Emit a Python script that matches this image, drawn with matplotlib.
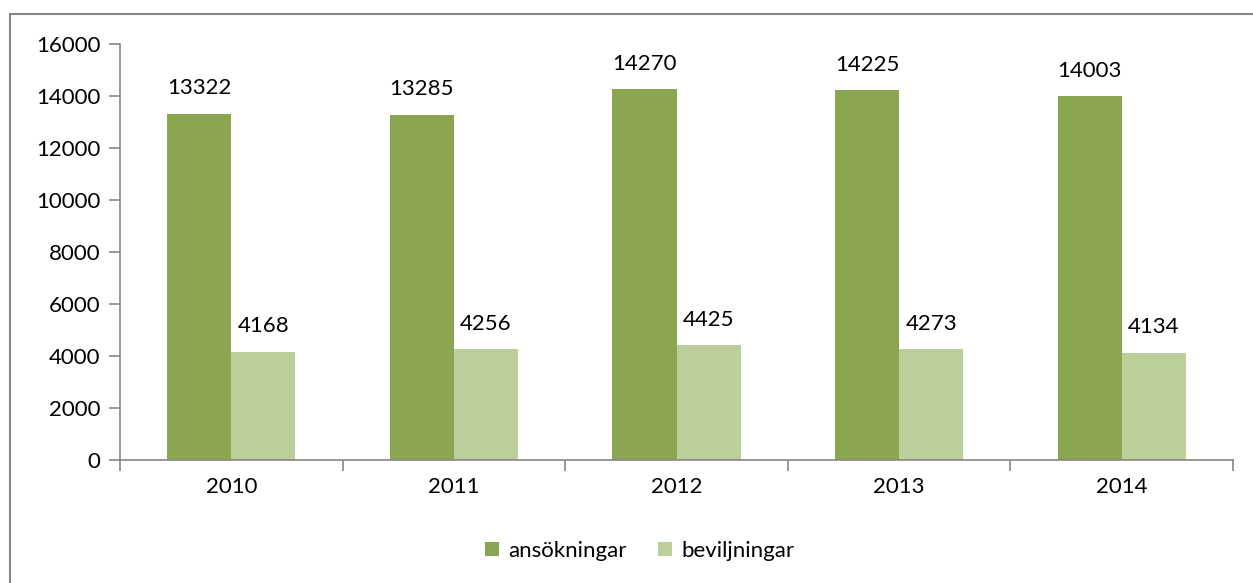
import matplotlib
matplotlib.use("Agg")
import matplotlib.pyplot as plt
from matplotlib.patches import Rectangle
import numpy as np

years = ["2010", "2011", "2012", "2013", "2014"]
ansokningar = [13322, 13285, 14270, 14225, 14003]
beviljningar = [4168, 4256, 4425, 4273, 4134]

plt.rcParams['font.family'] = ['Lato', 'DejaVu Sans']
dark = "#8BA650"
light = "#BACF99"
axcol = "#868686"
fs = 16

fig = plt.figure(figsize=(12.53, 5.83), dpi=100)
ax = fig.add_axes([120/1253, 1-460/583, (1233-120)/1253, (460-44)/583])

x = np.arange(len(years))
w = 0.288
b1 = ax.bar(x - w/2, ansokningar, w, color=dark, label="ansökningar")
b2 = ax.bar(x + w/2, beviljningar, w, color=light, label="beviljningar")
for bars in (b1, b2):
    for r in bars:
        ax.annotate(f"{int(r.get_height())}", (r.get_x() + r.get_width()/2, r.get_height()),
                    xytext=(0, 11), textcoords="offset points", ha="center", va="bottom",
                    fontsize=fs, color="black")

ax.set_xlim(-0.5, len(years) - 0.5)
ax.set_ylim(0, 16000)
ax.set_yticks(range(0, 16001, 2000))
ax.set_xticks(x)
ax.set_xticklabels(years)
ax.set_xticks(np.arange(-0.5, len(years)), minor=True)
ax.tick_params(axis='x', which='major', length=0, pad=12, labelsize=fs)
ax.tick_params(axis='x', which='minor', length=8, width=1.2, color=axcol, direction='out')
ax.tick_params(axis='y', length=8, width=1.2, color=axcol, labelsize=fs, pad=6)
for s in ("top", "right"):
    ax.spines[s].set_visible(False)
for s in ("left", "bottom"):
    ax.spines[s].set_color(axcol)
    ax.spines[s].set_linewidth(1.2)

fig.legend(handles=[b1, b2], labels=["ansökningar", "beviljningar"], loc="center",
           bbox_to_anchor=(640/1253, 1-551/583), ncol=2, frameon=False, fontsize=fs,
           handlelength=0.6, handleheight=0.6, handletextpad=0.45, columnspacing=1.4)

fig.patches.append(Rectangle((10/1253, -0.2), 1.2, 1.2 - 14/583, transform=fig.transFigure,
                             fill=False, edgecolor=axcol, linewidth=1.5))

fig.savefig("out.png", dpi=100)
